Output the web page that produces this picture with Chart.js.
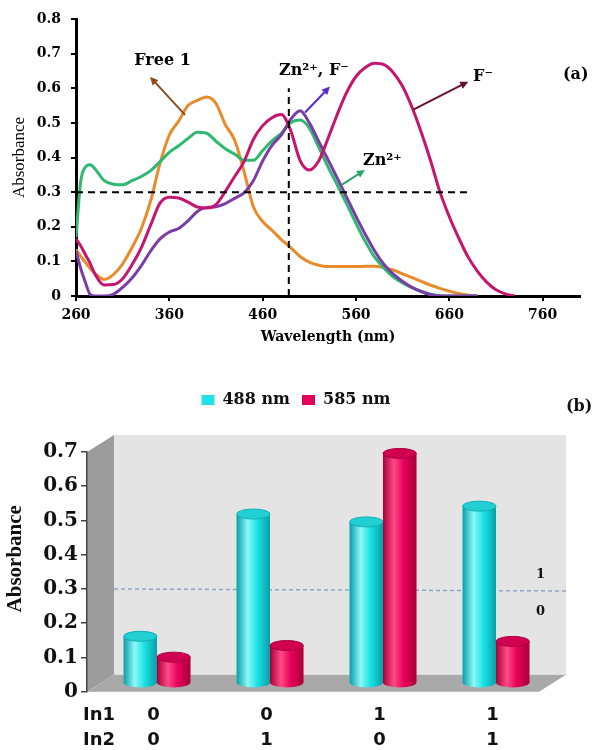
<!DOCTYPE html>
<html>
<head>
<meta charset="utf-8">
<script src="https://cdn.jsdelivr.net/npm/chart.js@4.4.0/dist/chart.umd.min.js"></script>
<style>
  body { margin: 0; background: #fff; width: 592px; height: 750px; overflow: hidden; position: relative; }
  #specBox { position: absolute; left: 0; top: 0; width: 592px; height: 355px; }
  #barBox { position: absolute; left: 0; top: 380px; width: 592px; height: 370px; }
</style>
</head>
<body>
<div id="specBox"><canvas id="spec"></canvas></div>
<div id="barBox"><canvas id="bars"></canvas></div>
<script>
const wavelengths = [260,265,270,275,280,290,300,310,320,330,340,350,360,370,380,390,400,410,420,430,440,450,460,470,480,490,500,510,520,530,540,550,560,570,580,590,600,610,620,630,640,650,660,670,680,690,700,710,720,730]
const free1 = [.135,.115,.097,.08,.066,.048,.062,.093,.14,.195,.275,.383,.465,.505,.55,.565,.575,.556,.495,.45,.36,.258,.215,.19,.163,.14,.114,.098,.089,.085,.085,.085,.085,.086,.086,.082,.075,.064,.053,.042,.031,.022,.014,.007,.002,0,null,null,null,null]
const zinc = [.17,.33,.372,.379,.368,.334,.323,.321,.333,.345,.362,.388,.415,.434,.455,.473,.47,.447,.425,.41,.392,.392,.42,.448,.47,.5,.508,.485,.43,.373,.32,.266,.21,.157,.112,.08,.055,.038,.024,.013,.005,.001,0,0,0,0,null,null,null,null]
const fluoride = [.165,.145,.12,.095,.065,.032,.033,.05,.09,.14,.205,.268,.285,.283,.271,.257,.254,.264,.302,.345,.388,.452,.492,.515,.524,.478,.392,.364,.39,.455,.525,.588,.634,.66,.672,.668,.645,.605,.545,.472,.39,.3,.229,.168,.113,.072,.04,.018,.006,0]
const zincFluoride = [.13,.08,.04,.005,0,0,.005,.025,.052,.088,.13,.165,.185,.195,.217,.244,.256,.258,.267,.282,.298,.333,.39,.435,.465,.51,.535,.5,.447,.394,.34,.285,.23,.178,.13,.091,.063,.042,.025,.013,.004,0,0,0,0,0,null,null,null,null]
const wlTicks = [260,360,460,560,660,760]
const guideWl = 488      // vertical dashed line
const guideAbs = 0.3     // horizontal dashed line

// (b) absorbance at the two wavelengths for each input pair
const in1 = ['0','0','1','1']
const in2 = ['0','1','0','1']
const abs488 = [0.137, 0.494, 0.471, 0.517]
const abs585 = [0.076, 0.110, 0.671, 0.122]
const threshold = 0.3

// notes on (a), placed in data units
const notes = [
  {text: 'Free 1', wl: 352.7, abs: 0.68, align: 'center'},
  {text: 'Zn²⁺, F⁻', wl: 477.5, abs: 0.65, align: 'left'},
  {text: 'F⁻', wl: 685.4, abs: 0.633, align: 'left'},
  {text: 'Zn²⁺', wl: 567.5, abs: 0.39, align: 'left'},
  {text: '(a)', wl: 781.8, abs: 0.639, align: 'left'}
]
const arrows = [
  {from: [376.8, 0.523], to: [339.3, 0.633], color: '#8a4b1e'},
  {from: [505.4, 0.53], to: [532.1, 0.605], color: '#5a2bc8'},
  {from: [621.4, 0.538], to: [680.3, 0.619], color: '#6d0f33'},
  {from: [544.6, 0.321], to: [569.6, 0.364], color: '#2aa86c'}
]

Chart.defaults.font.family = '"DejaVu Serif", serif'
Chart.defaults.color = '#000'

const pts = arr => wavelengths.map((w, i) => ({x: w, y: arr[i]}))

function arrow(ctx, x1, y1, x2, y2, color) {
  const a = Math.atan2(y2 - y1, x2 - x1), len = 9
  ctx.strokeStyle = color
  ctx.fillStyle = color
  ctx.lineWidth = 2
  ctx.beginPath()
  ctx.moveTo(x1, y1)
  ctx.lineTo(x2 - Math.cos(a) * len * 0.8, y2 - Math.sin(a) * len * 0.8)
  ctx.stroke()
  ctx.beginPath()
  ctx.moveTo(x2, y2)
  ctx.lineTo(x2 - len * Math.cos(a - 0.45), y2 - len * Math.sin(a - 0.45))
  ctx.lineTo(x2 - len * Math.cos(a + 0.45), y2 - len * Math.sin(a + 0.45))
  ctx.closePath()
  ctx.fill()
}

const notesPlugin = {
  id: 'notes',
  afterDraw(chart) {
    const {ctx, scales: {x, y}} = chart
    ctx.save()
    arrows.forEach(a => arrow(ctx, x.getPixelForValue(a.from[0]), y.getPixelForValue(a.from[1]),
      x.getPixelForValue(a.to[0]), y.getPixelForValue(a.to[1]), a.color))
    ctx.fillStyle = '#000'
    ctx.font = 'bold 16px "DejaVu Serif"'
    ctx.textBaseline = 'middle'
    notes.forEach(n => {
      ctx.textAlign = n.align
      ctx.fillText(n.text, x.getPixelForValue(n.wl), y.getPixelForValue(n.abs))
    })
    ctx.restore()
  }
}

const line = (data, color) => ({data, borderColor: color, borderWidth: 3, pointRadius: 0,
  tension: 0.4, cubicInterpolationMode: 'monotone', fill: false})
const guide = data => ({data, borderColor: '#000', borderWidth: 2, borderDash: [7, 5], pointRadius: 0, fill: false})

new Chart(document.getElementById('spec'), {
  type: 'line',
  data: {
    datasets: [
      guide([{x: guideWl, y: 0}, {x: guideWl, y: 0.6}]),
      guide([{x: 260, y: guideAbs}, {x: 684, y: guideAbs}]),
      line(pts(fluoride), '#c4166e'),
      line(pts(zincFluoride), '#7a3da6'),
      line(pts(zinc), '#2eb872'),
      line(pts(free1), '#e98b2a')
    ]
  },
  options: {
    responsive: true,
    maintainAspectRatio: false,
    animation: false,
    layout: {padding: {top: 19, right: 12, left: 0, bottom: 0}},
    plugins: {legend: {display: false}, tooltip: {enabled: false}},
    scales: {
      x: {
        type: 'linear', min: 260, max: 800,
        afterBuildTicks: s => { s.ticks = wlTicks.map(v => ({value: v})) },
        afterFit: s => { s.height = 59 },
        grid: {drawOnChartArea: false, drawTicks: true, tickLength: 5, color: '#000', lineWidth: 2},
        border: {color: '#000', width: 3},
        ticks: {font: {weight: 'bold', size: 14}, padding: 6},
        title: {display: true, text: 'Wavelength (nm)', font: {weight: 'bold', size: 14}, padding: {top: 0, bottom: 9}}
      },
      y: {
        min: 0, max: 0.8,
        afterFit: s => { s.width = 76 },
        grid: {drawOnChartArea: false, drawTicks: true, tickLength: 5, color: '#000', lineWidth: 2},
        border: {color: '#000', width: 3},
        ticks: {stepSize: 0.1, font: {weight: 'bold', size: 14}, padding: 10},
        title: {display: true, text: 'Absorbance', font: {family: '"Liberation Serif"', size: 17}, padding: {top: 9, bottom: 0}}
      }
    }
  },
  plugins: [notesPlugin]
})

// 3D look for (b): side wall, back wall, floor and cylinders
const depth = {dx: 27, dy: -17}
const shades = [
  {dark: '#0a9ea6', light: '#8ff8f8', mid: '#19e3e6', top: '#22cfd3', edge: '#12b0b4'},
  {dark: '#a8003a', light: '#ff4a86', mid: '#e8005a', top: '#d20050', edge: '#a80040'}
]

const roomPlugin = {
  id: 'room',
  beforeDraw(chart) {
    const {ctx, chartArea: a, scales: {y}} = chart
    const y0 = y.getPixelForValue(0), y1 = y.getPixelForValue(y.max)
    const {dx, dy} = depth
    ctx.save()
    ctx.fillStyle = '#9c9c9c'
    ctx.beginPath()
    ctx.moveTo(a.left, y1); ctx.lineTo(a.left + dx, y1 + dy); ctx.lineTo(a.left + dx, y0 + dy); ctx.lineTo(a.left, y0)
    ctx.closePath(); ctx.fill()
    ctx.fillStyle = '#e4e4e4'
    ctx.fillRect(a.left + dx, y1 + dy, a.right - a.left, y0 - y1)
    ctx.fillStyle = '#a9a9a9'
    ctx.beginPath()
    ctx.moveTo(a.left, y0); ctx.lineTo(a.right, y0); ctx.lineTo(a.right + dx, y0 + dy); ctx.lineTo(a.left + dx, y0 + dy)
    ctx.closePath(); ctx.fill()
    ctx.restore()
  },
  beforeDatasetsDraw(chart) {
    const {ctx, chartArea: a, scales: {y}} = chart
    const yt = y.getPixelForValue(threshold)
    ctx.save()
    ctx.strokeStyle = '#8ea6c6'
    ctx.lineWidth = 1.5
    ctx.setLineDash([4, 3])
    ctx.beginPath()
    ctx.moveTo(a.left + depth.dx, yt)
    ctx.lineTo(a.right + depth.dx, yt + 2)
    ctx.stroke()
    ctx.restore()
    ctx.save()
    ctx.translate(depth.dx / 2, depth.dy / 2)
  },
  afterDatasetsDraw(chart) {
    const {ctx} = chart
    chart.data.datasets.forEach((ds, di) => {
      const s = shades[di]
      chart.getDatasetMeta(di).data.forEach(bar => {
        const {x, y, base, width} = bar.getProps(['x', 'y', 'base', 'width'], true)
        const l = x - width / 2, r = x + width / 2, ry = 5
        const g = ctx.createLinearGradient(l, 0, r, 0)
        g.addColorStop(0, s.dark)
        g.addColorStop(0.33, s.light)
        g.addColorStop(0.62, s.mid)
        g.addColorStop(1, s.dark)
        ctx.fillStyle = g
        ctx.beginPath()
        ctx.ellipse(x, base, width / 2, ry, 0, 0, Math.PI * 2)
        ctx.fill()
        ctx.fillRect(l, y, width, base - y)
        ctx.beginPath()
        ctx.ellipse(x, y, width / 2, ry, 0, 0, Math.PI * 2)
        ctx.fillStyle = s.top
        ctx.fill()
        ctx.strokeStyle = s.edge
        ctx.lineWidth = 1
        ctx.stroke()
      })
    })
    ctx.restore()
  },
  afterDraw(chart) {
    const {ctx, chartArea: a, scales: {x, y}} = chart
    ctx.save()
    ctx.fillStyle = '#111'
    ctx.textBaseline = 'middle'
    ctx.textAlign = 'center'
    ctx.font = 'bold 13px "DejaVu Serif"'
    ctx.fillText('1', a.right + 1.5, y.getPixelForValue(0.341))
    ctx.fillText('0', a.right + 1.5, y.getPixelForValue(0.233))
    ctx.textAlign = 'left'
    ctx.font = 'bold 16px "DejaVu Serif"'
    ctx.fillText('(b)', chart.width - 26, 27)
    ctx.font = 'bold 18px "DejaVu Sans"'
    const row = x.top + 11 + 12.5
    ctx.fillText('In1', a.left - 4, row)
    ctx.fillText('In2', a.left - 4, row + 25)
    ctx.restore()
  }
}

new Chart(document.getElementById('bars'), {
  type: 'bar',
  data: {
    labels: in1.map((v, i) => [v, in2[i]]),
    datasets: [
      {label: '488 nm', data: abs488, backgroundColor: '#1ee2e6', borderWidth: 0},
      {label: '585 nm', data: abs585, backgroundColor: '#e6005a', borderWidth: 0}
    ]
  },
  options: {
    responsive: true,
    maintainAspectRatio: false,
    animation: false,
    layout: {padding: 0},
    datasets: {bar: {categoryPercentage: 0.59, barPercentage: 1}},
    plugins: {
      tooltip: {enabled: false},
      legend: {
        position: 'top',
        labels: {boxWidth: 13, boxHeight: 10, padding: 12, color: '#111', font: {weight: 'bold', size: 16}}
      },
      title: {display: true, text: '', weight: 500, font: {size: 10}, padding: {top: 22, bottom: 0}}
    },
    scales: {
      x: {
        grid: {display: false, drawTicks: false},
        border: {display: false},
        afterFit: s => { s.height = 58.3 },
        ticks: {color: '#111', padding: 11, labelOffset: 10,
          font: {family: '"DejaVu Sans"', weight: 'bold', size: 18, lineHeight: 1.39}}
      },
      y: {
        min: 0, max: 0.7,
        afterFit: s => { s.width = 87 },
        grid: {drawOnChartArea: false, drawTicks: true, tickLength: 6, color: '#444', lineWidth: 1.5},
        border: {color: '#444', width: 1.5},
        ticks: {stepSize: 0.1, color: '#111', padding: 3, font: {weight: 'bold', size: 20}},
        title: {display: true, text: '     Absorbance', color: '#111',
          font: {family: '"Liberation Serif"', weight: 'bold', size: 21}, padding: {top: 2.5, bottom: 0}}
      },
      side: {
        type: 'linear', position: 'right', display: true,
        ticks: {display: false}, grid: {display: false}, border: {display: false},
        afterFit: s => { s.width = 53 }
      }
    }
  },
  plugins: [roomPlugin]
})
</script>
</body>
</html>
